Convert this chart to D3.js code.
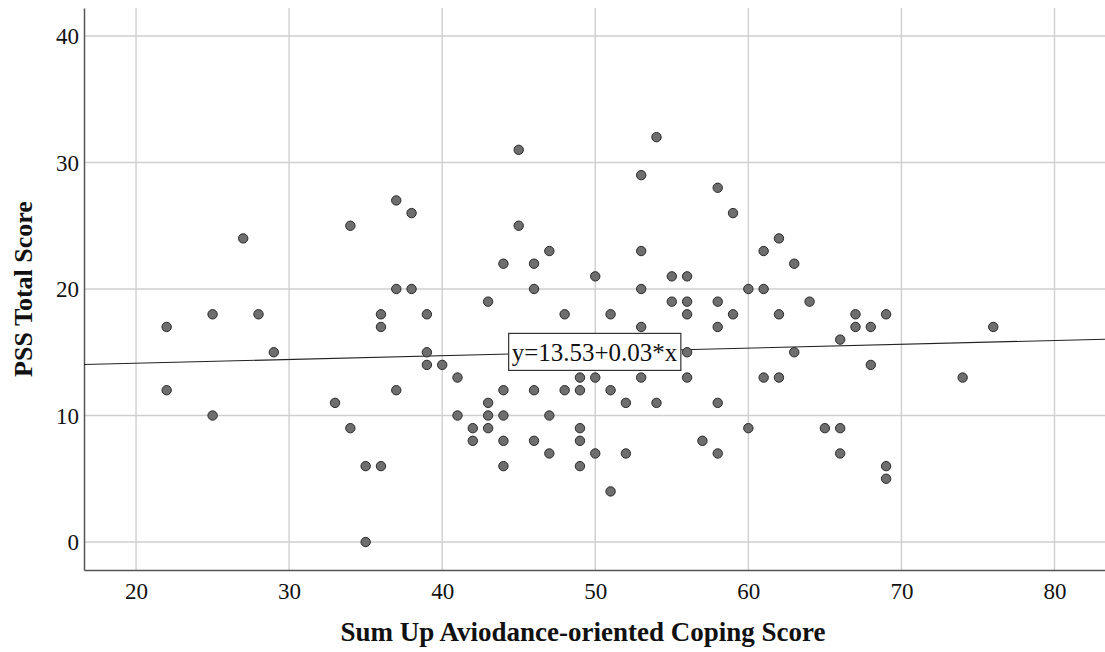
<!DOCTYPE html>
<html>
<head>
<meta charset="utf-8">
<script src="https://cdn.jsdelivr.net/npm/d3@7"></script>
<style>
  body { margin: 0; background: #fff; }
  svg { display: block; font-family: "Liberation Serif", "Times New Roman", serif; }
</style>
</head>
<body>
<svg id="chart" width="1105" height="652"></svg>
<script>
// coping score (x) and PSS total score (y), one entry per respondent
const copingScores = [
  22, 22, 25, 25, 27, 28, 29, 33, 34, 34, 35, 35,
  36, 36, 36, 37, 37, 37, 38, 38, 39, 39, 39, 40,
  41, 41, 42, 42, 43, 43, 43, 43, 44, 44, 44, 44, 44,
  45, 45, 46, 46, 46, 46, 47, 47, 47, 48, 48,
  49, 49, 49, 49, 49, 50, 50, 50, 51, 51, 51, 52, 52,
  53, 53, 53, 53, 53, 54, 54, 55, 55, 56, 56, 56, 56, 56,
  57, 58, 58, 58, 58, 58, 59, 59, 60, 60, 61, 61, 61,
  62, 62, 62, 63, 63, 64, 65, 66, 66, 66, 67, 67, 68, 68,
  69, 69, 69, 74, 76
];
const pssScores = [
  17, 12, 18, 10, 24, 18, 15, 11, 25, 9, 6, 0,
  18, 17, 6, 27, 20, 12, 26, 20, 18, 15, 14, 14,
  13, 10, 9, 8, 19, 11, 10, 9, 22, 12, 10, 8, 6,
  31, 25, 22, 20, 12, 8, 23, 10, 7, 18, 12,
  13, 12, 9, 8, 6, 21, 13, 7, 18, 12, 4, 11, 7,
  29, 23, 20, 17, 13, 32, 11, 21, 19, 21, 19, 18, 15, 13,
  8, 28, 19, 17, 11, 7, 26, 18, 20, 9, 23, 20, 13,
  24, 18, 13, 22, 15, 19, 9, 16, 9, 7, 18, 17, 17, 14,
  18, 6, 5, 13, 17
];
const xTicks = [20, 30, 40, 50, 60, 70, 80];
const yTicks = [0, 10, 20, 30, 40];
const fitIntercept = 13.53,
      fitSlope = 0.03;
const xTitle = "Sum Up Aviodance-oriented Coping Score",
      yTitle = "PSS Total Score";

const points = copingScores.map(function(x, i) {
  return {x: x, y: pssScores[i]};
});

const svg = d3.select("#chart");
const width = 1105, height = 652;
const margin = {top: 8, right: 0, bottom: 82, left: 84};

const x = d3.scaleLinear()
  .domain([16.6, 83.3])
  .range([margin.left, width - margin.right]);
const y = d3.scaleLinear()
  .domain([-2.21, 42.21])
  .range([height - margin.bottom, margin.top]);

// grid
svg.append("g")
  .selectAll("line")
  .data(xTicks)
  .join("line")
    .attr("x1", d => x(d)).attr("x2", d => x(d))
    .attr("y1", margin.top).attr("y2", height - margin.bottom)
    .attr("stroke", "#cfcfcf")
    .attr("stroke-width", 1.4);

svg.append("g")
  .selectAll("line")
  .data(yTicks)
  .join("line")
    .attr("x1", margin.left).attr("x2", width - margin.right)
    .attr("y1", d => y(d)).attr("y2", d => y(d))
    .attr("stroke", "#cfcfcf")
    .attr("stroke-width", 1.4);

// axes
const xAxis = d3.axisBottom(x).tickValues(xTicks).tickSize(0).tickPadding(13);
const yAxis = d3.axisLeft(y).tickValues(yTicks).tickSize(0).tickPadding(5);

const gx = svg.append("g")
  .attr("transform", "translate(0," + (height - margin.bottom) + ")")
  .call(xAxis);
const gy = svg.append("g")
  .attr("transform", "translate(" + margin.left + ",0)")
  .call(yAxis);

[gx, gy].forEach(function(g) {
  g.select(".domain").attr("stroke", "#555").attr("stroke-width", 1.5);
  g.selectAll(".tick text")
    .attr("fill", "#111")
    .style("font-family", "Liberation Serif, serif")
    .style("font-size", "23px");
});
gy.selectAll(".tick text").attr("dy", "0.34em");

// fit line
const line = d3.line()
  .x(d => x(d))
  .y(d => y(fitIntercept + fitSlope * d));

svg.append("path")
  .attr("d", line(x.domain()))
  .attr("fill", "none")
  .attr("stroke", "#222")
  .attr("stroke-width", 1.1);

// points
svg.append("g")
  .selectAll("circle")
  .data(points)
  .join("circle")
    .attr("cx", d => x(d.x))
    .attr("cy", d => y(d.y))
    .attr("r", 4.7)
    .attr("fill", "#6e6e6e")
    .attr("stroke", "#2a2a2a")
    .attr("stroke-width", 1);

// equation label
const midX = (x.domain()[0] + x.domain()[1]) / 2;
const label = svg.append("g")
  .attr("transform", "translate(" + x(midX) + "," + y(fitIntercept + fitSlope * midX) + ")");
const labelText = label.append("text")
  .attr("text-anchor", "middle")
  .attr("dy", "0.35em")
  .style("font-size", "25px")
  .attr("fill", "#111")
  .text("y=" + fitIntercept.toFixed(2) + "+" + fitSlope.toFixed(2) + "*x");
const bb = labelText.node().getBBox();
label.insert("rect", "text")
  .attr("x", bb.x - 3)
  .attr("y", -18.5)
  .attr("width", bb.width + 6)
  .attr("height", 37)
  .attr("fill", "#fff")
  .attr("stroke", "#333")
  .attr("stroke-width", 1.2);

// titles
svg.append("text")
  .attr("x", 583)
  .attr("y", 641)
  .attr("text-anchor", "middle")
  .style("font-size", "27px")
  .style("font-weight", "bold")
  .attr("fill", "#111")
  .text(xTitle);

svg.append("text")
  .attr("transform", "translate(32," + ((margin.top + height - margin.bottom) / 2) + ") rotate(-90)")
  .attr("text-anchor", "middle")
  .style("font-size", "26px")
  .style("font-weight", "bold")
  .attr("fill", "#111")
  .text(yTitle);
</script>
</body>
</html>
